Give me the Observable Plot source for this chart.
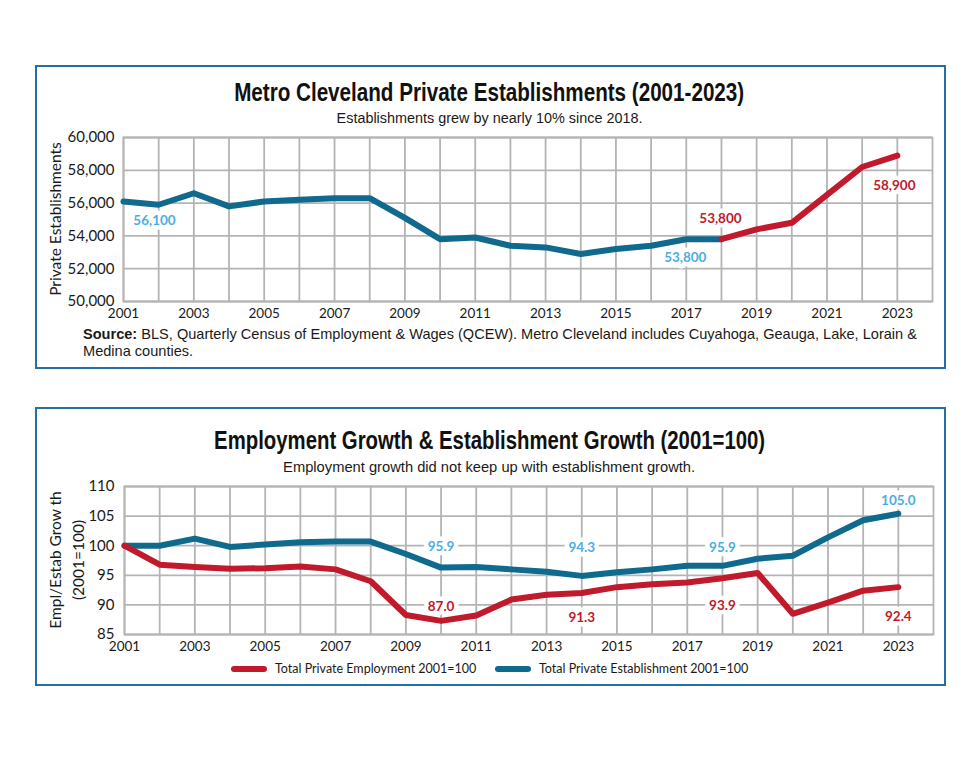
<!DOCTYPE html>
<html>
<head>
<meta charset="utf-8">
<script src="https://cdn.jsdelivr.net/npm/d3@7"></script>
<script src="https://cdn.jsdelivr.net/npm/@observablehq/plot@0.6"></script>
<style>
  body { margin: 0; background: #fff; }
  #page { position: relative; width: 979px; height: 760px; font-family: Lato, Roboto, "Open Sans", sans-serif; color: #1a1a1a; }
  .box { position: absolute; left: 35px; width: 911px; border: 2px solid #2470a0; box-sizing: border-box; }
  .cond { font-family: "Liberation Sans", Arial, Roboto, sans-serif; }
  .title { position: absolute; left: 0; width: 979px; text-align: center; font-weight: bold; white-space: nowrap; line-height: 1; color: #111; }
  .sub { position: absolute; left: 0; width: 979px; text-align: center; white-space: nowrap; line-height: 1; }
  .fit { display: inline-block; white-space: nowrap; transform-origin: 50% 50%; }
  .chart { position: absolute; left: 36px; }
  .source { position: absolute; left: 83px; white-space: nowrap; font-size: 14.5px; line-height: 17px; }
  .source .fit { transform-origin: 0 50%; }
  .ylab { position: absolute; white-space: nowrap; font-size: 15.5px; line-height: 23px; text-align: center; transform: translate(-50%, -50%) rotate(-90deg); }
  .legend { position: absolute; top: 661px; font-size: 12.5px; display: flex; align-items: center; white-space: nowrap; }
  .sw { display: inline-block; width: 36px; height: 6px; border-radius: 3px; margin-right: 8px; }
</style>
</head>
<body>
<div id="page">
  <div class="box" style="top:65px;height:304px;"></div>
  <div class="box" style="top:407px;height:279px;"></div>

  <div class="title cond" style="top:80px;font-size:25px;"><span class="fit" data-w="510" id="t1"></span></div>
  <div class="sub cond" style="top:110px;font-size:15.5px;"><span class="fit" data-w="306" id="s1"></span></div>
  <div class="chart" id="chart1" style="top:130px;"></div>
  <div class="ylab" id="yl1" style="left:55px;top:219px;"></div>
  <div class="source cond" style="top:326px;"><span class="fit" data-w="834" id="src"></span></div>

  <div class="title cond" style="top:428px;font-size:25px;"><span class="fit" data-w="551" id="t2"></span></div>
  <div class="sub cond" style="top:459px;font-size:15.5px;"><span class="fit" data-w="412" id="s2"></span></div>
  <div class="chart" id="chart2" style="top:478px;"></div>
  <div class="ylab" id="yl2" style="left:66.5px;top:560px;"></div>
  <div class="legend" style="left:231px;"><span class="sw" style="background:#c01a2c"></span><span id="lg1"></span></div>
  <div class="legend" style="left:495px;"><span class="sw" style="background:#0f6a8e"></span><span id="lg2"></span></div>
</div>
<script>
// ---------- data ----------
const years = [2001, 2002, 2003, 2004, 2005, 2006, 2007, 2008, 2009, 2010, 2011, 2012,
               2013, 2014, 2015, 2016, 2017, 2018, 2019, 2020, 2021, 2022, 2023];
const establishments = [56100, 55900, 56600, 55800, 56100, 56200, 56300, 56300, 55100, 53800, 53900, 53400,
                        53300, 52900, 53200, 53400, 53800, 53800, 54400, 54800, 56500, 58200, 58900];
const employmentIndex = [100, 96.8, 96.4, 96.1, 96.2, 96.5, 96.0, 94.0, 88.3, 87.3, 88.2, 90.9,
                         91.7, 92.0, 93.0, 93.5, 93.8, 94.5, 95.4, 88.5, 90.4, 92.4, 93.0];
const establishmentIndex = [100, 100.0, 101.2, 99.8, 100.2, 100.6, 100.7, 100.7, 98.6, 96.3, 96.4, 96.0,
                            95.6, 94.9, 95.5, 96.0, 96.6, 96.6, 97.8, 98.3, 101.4, 104.3, 105.4];
const splitYear = 2018;
const xTickYears = [2001, 2003, 2005, 2007, 2009, 2011, 2013, 2015, 2017, 2019, 2021, 2023];
const topYTicks = [50000, 52000, 54000, 56000, 58000, 60000];
const bottomYTicks = [85, 90, 95, 100, 105, 110];
const topLabelYears = [2001, 2017, 2018, 2023];
const topLabelValues = [56100, 53800, 53800, 58900];
const topLabelTexts = ["56,100", "53,800", "53,800", "58,900"];
const estLabelYears = [2010, 2014, 2018, 2023];
const estLabelTexts = ["95.9", "94.3", "95.9", "105.0"];
const empLabelYears = [2010, 2014, 2018, 2023];
const empLabelTexts = ["87.0", "91.3", "93.9", "92.4"];

const texts = {
  t1: "Metro Cleveland Private Establishments (2001-2023)",
  s1: "Establishments grew by nearly 10% since 2018.",
  src: "<b>Source:</b> BLS, Quarterly Census of Employment &amp; Wages (QCEW). Metro Cleveland includes Cuyahoga, Geauga, Lake, Lorain &amp;<br>Medina counties.",
  yl1: "Private Establishments",
  t2: "Employment Growth &amp; Establishment Growth (2001=100)",
  s2: "Employment growth did not keep up with establishment growth.",
  yl2: "Empl/Estab Grow th<br>(2001=100)",
  lg1: "Total Private Employment 2001=100",
  lg2: "Total Private Establishment 2001=100"
};
for (const [k, v] of Object.entries(texts)) document.getElementById(k).innerHTML = v;

// condense headings horizontally to the reference widths
document.querySelectorAll(".fit").forEach(el => {
  const target = +el.dataset.w;
  const w = el.getBoundingClientRect().width;
  if (w > 0) el.style.transform = `scaleX(${(target / w).toFixed(4)})`;
});

// ---------- styles ----------
const BLUE = "#0f6a8e", RED = "#c01a2c", LIGHT = "#4aaee2", GRID = "#b4b4b4";
const FONT = "Lato, Roboto, 'Open Sans', sans-serif";

// ---------- top chart ----------
const estRows = years.map((year, i) => ({year, value: establishments[i]}));
const bluePart = estRows.filter(d => d.year <= splitYear);
const redPart = estRows.filter(d => d.year >= splitYear);
const topLabels = topLabelYears.map((year, i) => ({year, value: topLabelValues[i], text: topLabelTexts[i]}));
const lab = {text: "text", fontWeight: "bold", fontSize: 13.5, stroke: "white", strokeWidth: 9, textAnchor: "middle"};

const chart1 = Plot.plot({
  width: 909, height: 195,
  marginLeft: 87, marginRight: 13, marginTop: 7, marginBottom: 24,
  x: {domain: [2001, 2024]},
  y: {domain: [50000, 60000]},
  style: {fontFamily: FONT, fontSize: "14px", color: "#1a1a1a", background: "transparent", overflow: "visible"},
  marks: [
    Plot.gridX(years, {stroke: GRID, strokeOpacity: 1, strokeWidth: 1.8}),
    Plot.gridY(topYTicks, {stroke: GRID, strokeOpacity: 1, strokeWidth: 1.8}),
    Plot.frame({stroke: GRID, strokeWidth: 1.8}),
    Plot.axisX({ticks: xTickYears, tickFormat: d => String(d), tickSize: 0, tickPadding: 7, fontSize: 13.5, label: null}),
    Plot.axisY({ticks: topYTicks, tickSize: 0, tickPadding: 9, fontSize: 15, label: null}),
    Plot.line(bluePart, {x: "year", y: "value", stroke: BLUE, strokeWidth: 6}),
    Plot.line(redPart, {x: "year", y: "value", stroke: RED, strokeWidth: 6}),
    Plot.text([topLabels[0]], {x: "year", y: "value", ...lab, fill: LIGHT, dx: 31, dy: 19}),
    Plot.text([topLabels[1]], {x: "year", y: "value", ...lab, fill: LIGHT, dx: -1, dy: 18}),
    Plot.text([topLabels[2]], {x: "year", y: "value", ...lab, fill: RED, dx: -1, dy: -21}),
    Plot.text([topLabels[3]], {x: "year", y: "value", ...lab, fill: RED, dx: -3, dy: 30})
  ]
});
document.getElementById("chart1").append(chart1);

// ---------- bottom chart ----------
const empRows = years.map((year, i) => ({year, value: employmentIndex[i]}));
const estIdxRows = years.map((year, i) => ({year, value: establishmentIndex[i]}));
const estLabels = estLabelYears.map((year, i) => ({year, value: establishmentIndex[years.indexOf(year)], text: estLabelTexts[i]}));
const empLabels = empLabelYears.map((year, i) => ({year, value: employmentIndex[years.indexOf(year)], text: empLabelTexts[i]}));
const estDy = [-21, -28, -18, -13];
const empDy = [-14, 25, 27, 30];

const chart2 = Plot.plot({
  width: 909, height: 182,
  marginLeft: 88, marginRight: 12, marginTop: 8, marginBottom: 26,
  x: {domain: [2001, 2024]},
  y: {domain: [85, 110]},
  style: {fontFamily: FONT, fontSize: "14px", color: "#1a1a1a", background: "transparent", overflow: "visible"},
  marks: [
    Plot.gridX(years, {stroke: GRID, strokeOpacity: 1, strokeWidth: 1.8}),
    Plot.gridY(bottomYTicks, {stroke: GRID, strokeOpacity: 1, strokeWidth: 1.8}),
    Plot.frame({stroke: GRID, strokeWidth: 1.8}),
    Plot.axisX({ticks: xTickYears, tickFormat: d => String(d), tickSize: 0, tickPadding: 7, fontSize: 13.5, label: null}),
    Plot.axisY({ticks: bottomYTicks, tickSize: 0, tickPadding: 10, fontSize: 15, label: null}),
    Plot.line(estIdxRows, {x: "year", y: "value", stroke: BLUE, strokeWidth: 6}),
    Plot.line(empRows, {x: "year", y: "value", stroke: RED, strokeWidth: 6}),
    ...estLabels.map((d, i) => Plot.text([d], {x: "year", y: "value", ...lab, fill: LIGHT, dy: estDy[i]})),
    ...empLabels.map((d, i) => Plot.text([d], {x: "year", y: "value", ...lab, fill: RED, dy: empDy[i]}))
  ]
});
document.getElementById("chart2").append(chart2);
</script>
</body>
</html>
